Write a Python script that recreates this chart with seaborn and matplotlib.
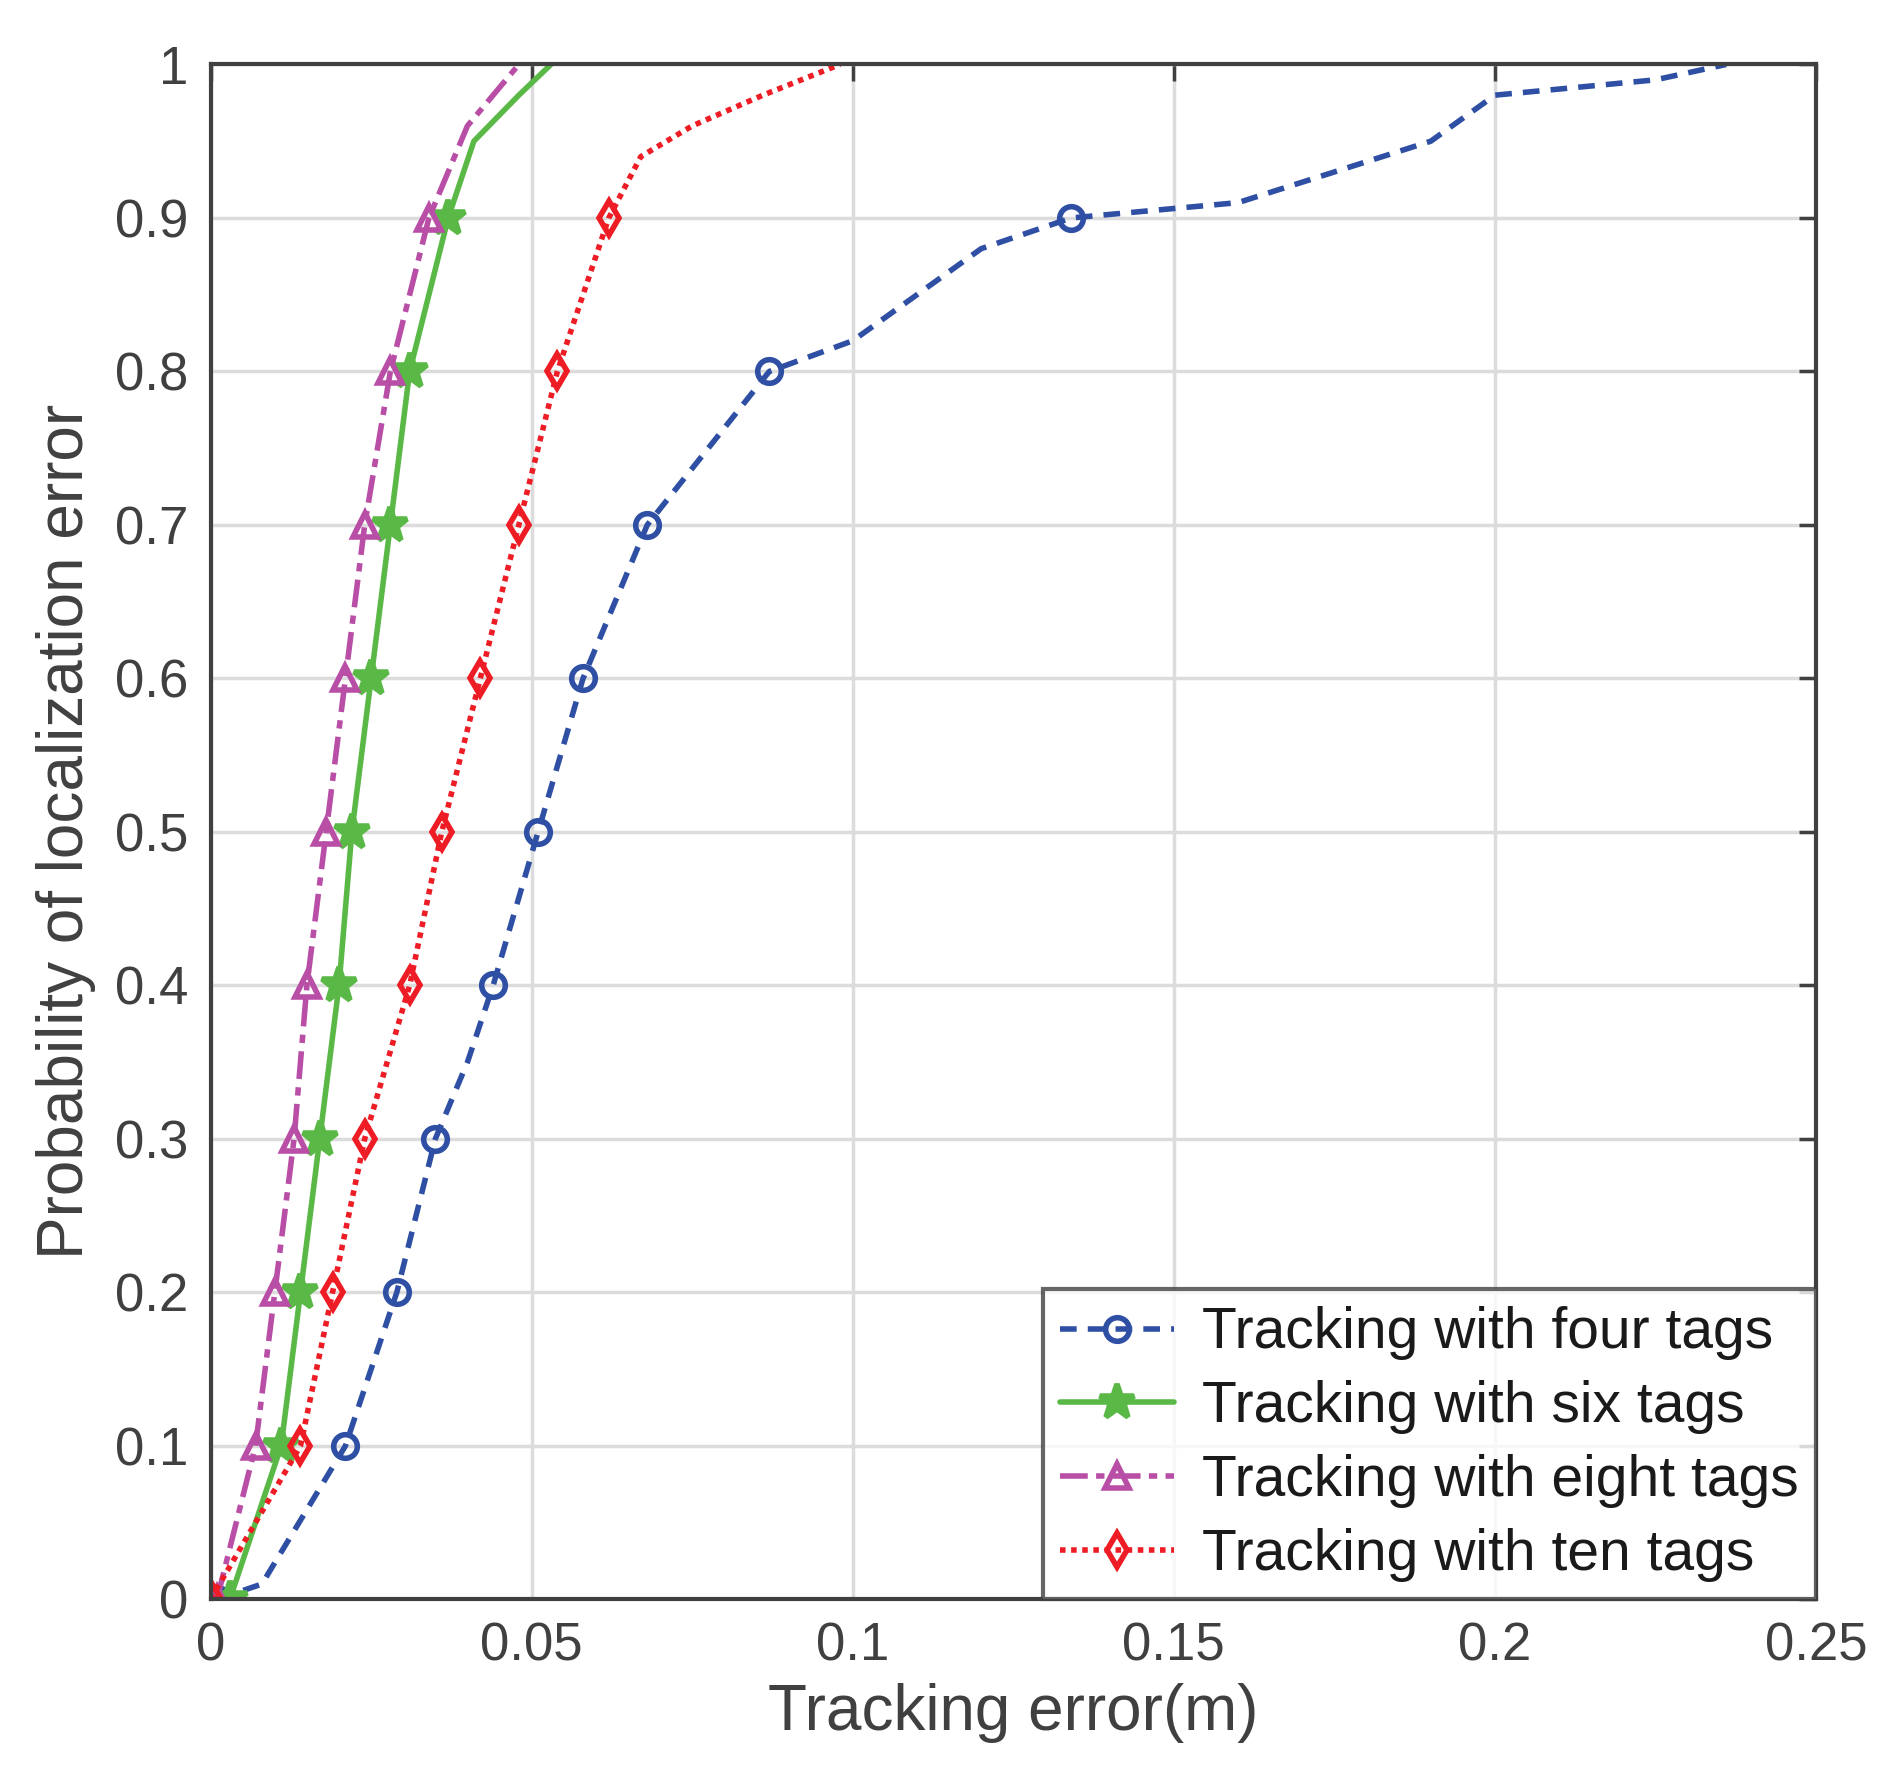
import numpy as np
import matplotlib
matplotlib.use("Agg")
import matplotlib.pyplot as plt
import seaborn as sns
import pandas as pd

sns.set_style("white")
plt.rcParams['font.family'] = ['Liberation Sans', 'DejaVu Sans']
plt.rcParams['font.size'] = 25

# CDF curves: (error, probability)
x_four = [0.001, 0.008, 0.021, 0.029, 0.035, 0.040, 0.044, 0.051, 0.058, 0.068, 0.087,
          0.100, 0.110, 0.120, 0.134, 0.160, 0.175, 0.190, 0.200, 0.225, 0.236]
p_four = [0.0, 0.01, 0.1, 0.2, 0.3, 0.35, 0.4, 0.5, 0.6, 0.7, 0.8,
          0.82, 0.85, 0.88, 0.9, 0.91, 0.93, 0.95, 0.98, 0.99, 1.0]
x_six = [0.003, 0.011, 0.014, 0.017, 0.020, 0.022, 0.025, 0.028, 0.031, 0.037, 0.041, 0.048, 0.053]
p_six = [0.0, 0.1, 0.2, 0.3, 0.4, 0.5, 0.6, 0.7, 0.8, 0.9, 0.95, 0.98, 1.0]
x_eight = [0.001, 0.007, 0.010, 0.013, 0.015, 0.018, 0.021, 0.024, 0.028, 0.034, 0.040, 0.048]
p_eight = [0.0, 0.1, 0.2, 0.3, 0.4, 0.5, 0.6, 0.7, 0.8, 0.9, 0.96, 1.0]
x_ten = [0.0, 0.014, 0.019, 0.024, 0.031, 0.036, 0.042, 0.048, 0.054, 0.062, 0.067, 0.075, 0.086, 0.098]
p_ten = [0.0, 0.1, 0.2, 0.3, 0.4, 0.5, 0.6, 0.7, 0.8, 0.9, 0.94, 0.96, 0.98, 1.0]

series = [
    ("Tracking with four tags", x_four, p_four, "#2e4fa3", (0, (3, 2)), "o"),
    ("Tracking with six tags", x_six, p_six, "#5ab946", "-", "*"),
    ("Tracking with eight tags", x_eight, p_eight, "#b94ea6", (0, (5, 1.5, 1.5, 1.5)), "^"),
    ("Tracking with ten tags", x_ten, p_ten, "#ee1c24", (0, (1, 1)), "d"),
]

fig = plt.figure(figsize=(18.8, 17.91), dpi=100)
ax = fig.add_axes([0.112, 0.107, 0.854, 0.857])

for label, xs, ps, col, ls, mk in series:
    df = pd.DataFrame({"x": xs, "p": ps})
    marks = [i for i, p in enumerate(ps) if abs(p * 10 - round(p * 10)) < 1e-9 and p < 0.95]
    sns.lineplot(data=df, x="x", y="p", ax=ax, color=col, lw=4, sort=False,
                 estimator=None, label=label, marker=mk, markevery=marks,
                 markersize=26 if mk == "*" else 17, mec=col,
                 mfc=col if mk == "*" else "none", mew=4, dashes=False)
    ax.lines[-1].set_linestyle(ls)

txt = "#404040"
ax.set_xlim(0, 0.25)
ax.set_ylim(0, 1)
ax.set_xticks([0, 0.05, 0.1, 0.15, 0.2, 0.25])
ax.set_xticklabels(["0", "0.05", "0.1", "0.15", "0.2", "0.25"])
ax.set_yticks(np.arange(0, 1.01, 0.1))
ax.set_yticklabels(["0", "0.1", "0.2", "0.3", "0.4", "0.5", "0.6", "0.7", "0.8", "0.9", "1"])
ax.grid(True, color="#dcdcdc", lw=2.5)
ax.tick_params(direction="in", length=12, width=2.5, labelsize=38, colors=txt,
               top=True, right=True, pad=16)
for s in ax.spines.values():
    s.set_color(txt)
    s.set_linewidth(3)
ax.set_xlabel("Tracking error(m)", fontsize=46, color=txt, labelpad=8)
ax.set_ylabel("Probability of localization error", fontsize=46, color=txt, labelpad=14)

leg = ax.legend(loc="lower right", fontsize=41, frameon=True, fancybox=False,
                borderaxespad=0, handlelength=2.0, labelspacing=0.35,
                handletextpad=0.5, borderpad=0.3)
leg.get_frame().set_edgecolor(txt)
leg.get_frame().set_linewidth(3)
for t in leg.get_texts():
    t.set_color("#1a1a1a")

fig.savefig("out.png", dpi=100)
